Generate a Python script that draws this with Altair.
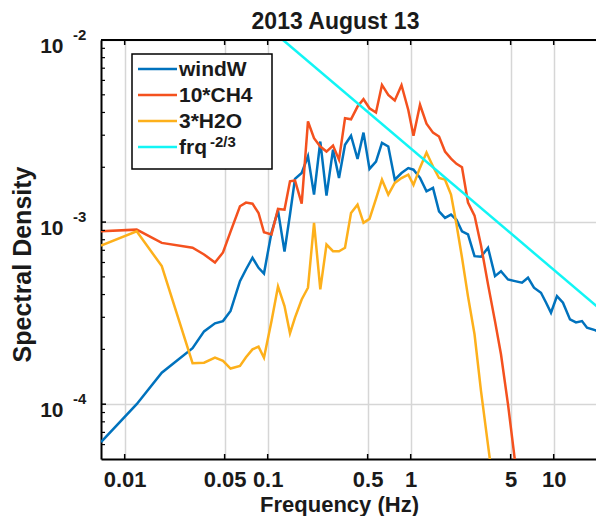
import altair as alt
import pandas as pd

# ---- data ----
freq = [0.00683, 0.01213, 0.01817, 0.02983, 0.0359, 0.0428, 0.0487, 0.0550, 0.0640, 0.0705,
        0.0783, 0.0863, 0.0942, 0.1063, 0.1181, 0.1311, 0.1432, 0.1552, 0.1729, 0.1913,
        0.2109, 0.2333, 0.2578, 0.2863, 0.3153, 0.3473, 0.3826, 0.4249, 0.4677, 0.5152,
        0.5719, 0.6297, 0.6970, 0.7740, 0.8626, 0.9621, 1.046, 1.162, 1.290, 1.432,
        1.578, 1.738, 1.914, 2.091, 2.284, 2.516, 2.795, 3.103, 3.473, 3.888,
        4.279, 4.789, 5.361, 6.003, 6.610, 7.278, 8.149, 8.833, 9.573, 10.54,
        11.61, 13.00, 14.32, 15.77, 17.10, 19.45, 21.42, 22.47]

windW = [6.19e-5, 1.00e-4, 1.49e-4, 2.03e-4, 2.51e-4, 2.78e-4, 2.86e-4, 3.25e-4, 4.74e-4, 5.49e-4,
         6.37e-4, 5.61e-4, 5.22e-4, 8.76e-4, 1.156e-3, 6.89e-4, 1.10e-3, 1.726e-3, 1.862e-3, 2.30e-3,
         1.416e-3, 2.77e-3, 1.397e-3, 2.50e-3, 1.746e-3, 2.66e-3, 2.98e-3, 2.22e-3, 3.10e-3, 1.96e-3,
         2.15e-3, 2.72e-3, 2.60e-3, 1.71e-3, 1.86e-3, 1.98e-3, 1.94e-3, 1.75e-3, 1.476e-3, 1.54e-3,
         1.146e-3, 1.054e-3, 1.10e-3, 1.03e-3, 8.90e-4, 8.55e-4, 6.50e-4, 6.45e-4, 7.23e-4, 5.05e-4,
         5.37e-4, 4.84e-4, 4.74e-4, 4.65e-4, 4.95e-4, 4.36e-4, 4.09e-4, 3.62e-4, 3.18e-4, 3.92e-4,
         3.61e-4, 2.92e-4, 2.81e-4, 2.86e-4, 2.63e-4, 2.55e-4, 2.47e-4, 2.51e-4]

ch4_x10 = [8.91e-4, 9.09e-4, 7.69e-4, 7.23e-4, 6.64e-4, 6.00e-4, 6.81e-4, 8.87e-4, 1.222e-3, 1.28e-3,
           1.262e-3, 1.122e-3, 8.79e-4, 8.55e-4, 1.181e-3, 1.17e-3, 1.674e-3, 1.694e-3, 1.262e-3, 3.57e-3,
           2.89e-3, 2.60e-3, 2.44e-3, 2.63e-3, 2.20e-3, 3.72e-3, 3.67e-3, 4.31e-3, 4.73e-3, 4.22e-3,
           4.00e-3, 5.67e-3, 5.00e-3, 4.65e-3, 5.64e-3, 4.13e-3, 2.98e-3, 4.41e-3, 3.47e-3, 3.10e-3,
           2.95e-3, 2.44e-3, 2.23e-3, 2.09e-3, 2.00e-3, 1.28e-3, 1.086e-3, 7.43e-4, 4.55e-4, 2.85e-4,
           1.88e-4, 1.00e-4, 4.88e-5, 2.34e-5]

h2o_x3 = [7.43e-4, 8.91e-4, 5.73e-4, 1.68e-4, 1.69e-4, 1.80e-4, 1.73e-4, 1.57e-4, 1.62e-4, 1.81e-4,
          2.00e-4, 2.07e-4, 1.80e-4, 2.85e-4, 4.43e-4, 3.46e-4, 2.45e-4, 2.99e-4, 3.76e-4, 4.36e-4,
          9.9e-4, 4.27e-4, 7.53e-4, 6.92e-4, 6.92e-4, 7.23e-4, 1.122e-3, 1.247e-3, 9.9e-4, 1.042e-3,
          1.34e-3, 1.71e-3, 1.416e-3, 1.64e-3, 1.746e-3, 1.82e-3, 1.60e-3, 1.99e-3, 2.41e-3, 2.02e-3,
          1.746e-3, 1.71e-3, 1.416e-3, 9.69e-4, 6.39e-4, 3.91e-4, 2.42e-4, 1.18e-4, 5.96e-5, 3.02e-5]

frq_f = [0.128, 22.47]
frq_s = [1.0e-2, 3.19e-4]

series_names = ["windW", "10*CH4", "3*H2O", "frq"]
series_colors = ["#0072BD", "#F4511E", "#FDB01B", "#12F5F5"]
series_widths = [2.5, 2.5, 2.5, 3.0]

x_ticks = [0.01, 0.05, 0.1, 0.5, 1, 5, 10]
y_major = [1e-4, 1e-3, 1e-2]
y_exp = ["-4", "-3", "-2"]
y_minor = [6e-5, 7e-5, 8e-5, 9e-5,
           2e-4, 3e-4, 4e-4, 5e-4, 6e-4, 7e-4, 8e-4, 9e-4,
           2e-3, 3e-3, 4e-3, 5e-3, 6e-3, 7e-3, 8e-3, 9e-3]
title_text = ["2013 August 13"]
legend_exp = ["-2/3"]

x_domain = [0.00683, 19.76]
y_domain = [5e-5, 1e-2]

# ---- build tables ----
rows = []
for name, ys in zip(series_names[:3], [windW, ch4_x10, h2o_x3]):
    for f, s in zip(freq, ys):
        rows.append({"f": f, "s": s, "series": name})
for f, s in zip(frq_f, frq_s):
    rows.append({"f": f, "s": s, "series": "frq"})
df = pd.DataFrame(rows)

W, H = 495, 419
FONT = "Liberation Sans"
TXT = "#1a1a1a"

xs = alt.Scale(type="log", domain=x_domain, nice=False)
ys = alt.Scale(type="log", domain=y_domain, nice=False)
color_scale = alt.Scale(domain=series_names, range=series_colors)

x_axis = alt.Axis(values=x_ticks, format="~g", title="Frequency (Hz)",
                  grid=True, gridColor="#d6d6d6", gridWidth=1.5,
                  ticks=False, tickSize=0, domain=True, domainColor="black", domainWidth=2,
                  labelFont=FONT, labelFontSize=22, labelFontWeight="bold", labelColor=TXT,
                  labelBaseline="alphabetic", labelPadding=27, labelOverlap=False, labelFlush=False,
                  titleFont=FONT, titleFontSize=22, titleFontWeight="bold", titleColor=TXT,
                  titleX=238, titleY=52, titleBaseline="alphabetic", titleAlign="center")
y_axis = alt.Axis(values=y_major, labelExpr="'10'", title="Spectral Density",
                  grid=True, gridColor="#d6d6d6", gridWidth=1.5,
                  ticks=False, tickSize=0, domain=True, domainColor="black", domainWidth=2,
                  labelFont=FONT, labelFontSize=21, labelFontWeight="bold", labelColor=TXT,
                  labelAlign="right", labelBaseline="alphabetic", labelOffset=12, labelPadding=38,
                  labelOverlap=False, labelFlush=False,
                  titleFont=FONT, titleFontSize=25, titleFontWeight="bold", titleColor=TXT,
                  titleX=-71, titleY=224, titleBaseline="alphabetic", titleAlign="center")

X = lambda: alt.X("f:Q", scale=xs, axis=x_axis)
Y = lambda: alt.Y("s:Q", scale=ys, axis=y_axis)

lines = alt.Chart(df).mark_line(clip=True).encode(
    x=X(), y=Y(),
    color=alt.Color("series:N", sort=series_names, scale=color_scale, legend=None),
    strokeWidth=alt.StrokeWidth("series:N", scale=alt.Scale(domain=series_names, range=series_widths),
                                legend=None),
)

# ---- legend (drawn as marks so the superscript can sit on top) ----
ROW0, ROWSTEP = 29, 26
leg_df = pd.DataFrame({"series": series_names,
                       "ly": [ROW0 + ROWSTEP * i for i in range(len(series_names))]})
one = pd.DataFrame({"k": [0]})
legend_box = alt.Chart(one).mark_rect(fill="white", stroke="black", strokeWidth=1.5).encode(
    x=alt.value(31), x2=alt.value(171), y=alt.value(14), y2=alt.value(129))
legend_lines = alt.Chart(leg_df).mark_rule(strokeWidth=2.5).encode(
    x=alt.value(37), x2=alt.value(76), y=alt.Y("ly:Q", scale=None),
    color=alt.Color("series:N", scale=color_scale, legend=None))
legend_text = alt.Chart(leg_df).mark_text(
    align="left", baseline="middle", font=FONT, fontSize=21, fontWeight="bold", color=TXT, dy=1
).encode(x=alt.value(78), y=alt.Y("ly:Q", scale=None), text="series:N")
leg_exp = alt.Chart(pd.DataFrame({"t": legend_exp})).mark_text(
    align="left", baseline="alphabetic", font=FONT, fontSize=15, fontWeight="bold", color=TXT
).encode(x=alt.value(109), y=alt.value(107), text="t:N")

tick_x_df = pd.DataFrame({"f": x_ticks})
tick_y_df = pd.DataFrame({"s": y_major, "e": y_exp})
minor_df = pd.DataFrame({"s": y_minor})

bot_ticks = alt.Chart(tick_x_df).mark_rule(color="black", strokeWidth=1.5).encode(
    x=X(), y=alt.value(H), y2=alt.value(H - 5))
top_ticks = alt.Chart(tick_x_df).mark_rule(color="black", strokeWidth=1.5).encode(
    x=X(), y=alt.value(0), y2=alt.value(5))
left_major = alt.Chart(tick_y_df).mark_rule(color="black", strokeWidth=1.5).encode(
    y=Y(), x=alt.value(0), x2=alt.value(5))
left_minor = alt.Chart(minor_df).mark_rule(color="black", strokeWidth=1.2).encode(
    y=Y(), x=alt.value(0), x2=alt.value(4))
top_border = alt.Chart(one).mark_rule(color="black", strokeWidth=2).encode(
    y=alt.value(0), x=alt.value(0), x2=alt.value(W))
exps = alt.Chart(tick_y_df).mark_text(align="left", baseline="alphabetic", font=FONT,
                                      fontSize=15, fontWeight="bold", color=TXT).encode(
    y=Y(), x=alt.value(-28), text="e:N")
title = alt.Chart(pd.DataFrame({"t": title_text})).mark_text(
    align="center", baseline="alphabetic", font=FONT, fontSize=23, fontWeight="bold", color=TXT
).encode(x=alt.value(234.5), y=alt.value(-11), text="t:N")

chart = alt.layer(lines, bot_ticks, top_ticks, left_major, left_minor, top_border,
                  legend_box, legend_lines, legend_text, leg_exp, exps, title).properties(
    width=W, height=H,
    autosize=alt.AutoSizeParams(type="none"),
    padding={"left": 93, "top": 32, "right": 0, "bottom": 57},
    background="white",
).configure_view(strokeWidth=0)

chart.save("out.html", embed_options={"renderer": "svg", "actions": False})
